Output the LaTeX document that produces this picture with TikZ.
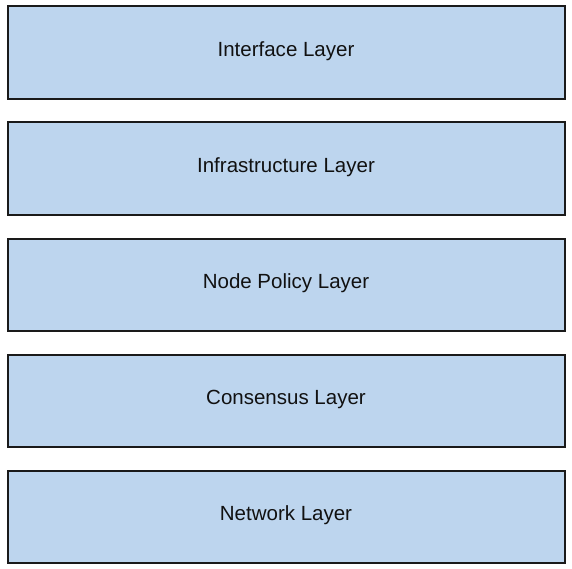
\documentclass[tikz,border=0pt]{standalone}
\usepackage{fontspec}
\setmainfont{Liberation Sans}
\definecolor{layerfill}{HTML}{BDD5EE}
\definecolor{layerdraw}{HTML}{1A1A1A}
\definecolor{layertext}{HTML}{111111}
\begin{document}
\begin{tikzpicture}[x=1pt,y=-1pt,
  layerbox/.style={draw=layerdraw,fill=layerfill,line width=2pt,minimum width=557pt,minimum height=92.5pt,inner sep=0pt,text height=12pt,text depth=4.4pt,anchor=north west,text=layertext,font=\fontsize{20.5}{24}\selectfont}]
\useasboundingbox (0,0) rectangle (572,569);
\node[layerbox] (interface) at (6.5,5.5) {Interface Layer};
\node[layerbox] (infra) at (6.5,121.5) {Infrastructure Layer};
\node[layerbox] (policy) at (6.5,237.5) {Node Policy Layer};
\node[layerbox] (consensus) at (6.5,353.5) {Consensus Layer};
\node[layerbox] (network) at (6.5,469.5) {Network Layer};
\end{tikzpicture}
\end{document}
